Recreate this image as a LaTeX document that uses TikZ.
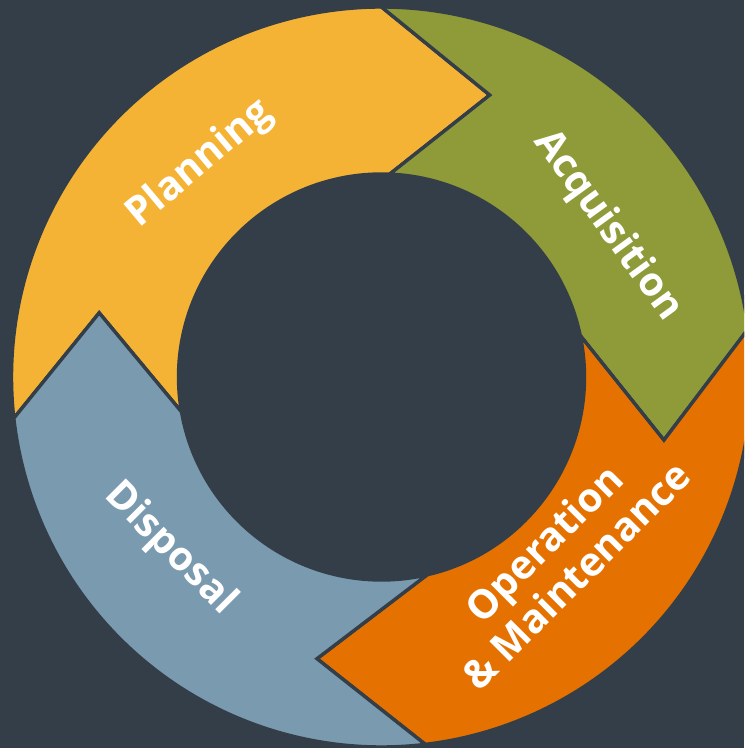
\documentclass[tikz,border=0pt]{standalone}
\usepackage{fontspec}
\setmainfont{Open Sans}
\definecolor{bg}{HTML}{333E48}
\definecolor{planyellow}{HTML}{F5B335}
\definecolor{acqgreen}{HTML}{8F9A38}
\definecolor{oporange}{HTML}{E57200}
\definecolor{dispblue}{HTML}{7A9AB0}

\begin{document}
\begin{tikzpicture}[
  x=0.5pt, y=0.5pt,
  stage/.style = {draw=bg, line width=1.7pt, line join=miter},
  stagetext/.style = {text=white, align=center,
    font=\bfseries\fontsize{20}{23}\selectfont}
  ]
  \fill[bg] (-381.5,-371) rectangle (362.5,377);
  \useasboundingbox (-381.5,-371) rectangle (362.5,377);
  \clip (-381.5,-371) rectangle (362.5,377);

  % ring segments, outer radius 370, inner radius 203
  \filldraw[stage, fill=planyellow] (186.4:370)
    arc[start angle=186.4, end angle=90, radius=370] -- (69:302) -- (87.7:203)
    arc[start angle=87.7, end angle=189.9, radius=203] -- (167.2:289.5) -- cycle;
  \filldraw[stage, fill=acqgreen] (90:370)
    arc[start angle=90, end angle=7.5, radius=370] -- (-12.6:289.4) -- (11.8:203)
    arc[start angle=11.8, end angle=87.7, radius=203] -- (69:302) -- cycle;
  \filldraw[stage, fill=oporange] (7.5:370)
    arc[start angle=7.5, end angle=-83.2, radius=370] -- (-102.9:289) -- (-77:203)
    arc[start angle=-77, end angle=11.8, radius=203] -- (-12.6:289.4) -- cycle;
  \filldraw[stage, fill=dispblue] (-83.2:370)
    arc[start angle=-83.2, end angle=-173.6, radius=370] -- (167.2:289.5) -- (-170.1:203)
    arc[start angle=-170.1, end angle=-77, radius=203] -- (-102.9:289) -- cycle;

  % stage names
  \node[stagetext, rotate=40] (plan) at (-181.5,213) {Planning};
  \node[stagetext, rotate=-54] (acq) at (226,151) {Acquisition};
  \node[stagetext, rotate=45] (om) at (178,-182) {Operation\\\& Maintenance};
  \node[stagetext, rotate=-45] (disp) at (-211.5,-172) {Disposal};
\end{tikzpicture}
\end{document}
